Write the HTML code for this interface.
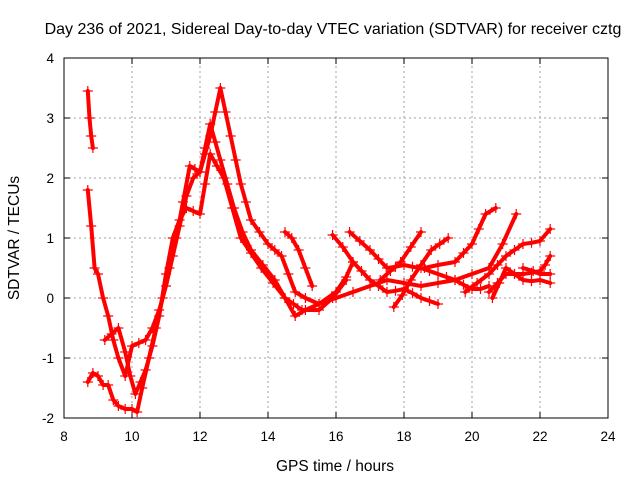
<!DOCTYPE html>
<html><head><meta charset="utf-8"><style>
body{margin:0;background:#fff}
svg{display:block;font-family:"Liberation Sans",sans-serif}
</style></head><body>
<svg id="chart" width="640" height="480">
<text x="333" y="34" font-size="16" text-anchor="middle">Day 236 of 2021, Sidereal Day-to-day VTEC variation (SDTVAR) for receiver cztg</text>
<text x="335" y="471" font-size="15.5" text-anchor="middle">GPS time / hours</text>
<text transform="translate(19,238) rotate(-90)" font-size="15.5" text-anchor="middle">SDTVAR / TECUs</text>
<g id="grid"></g><g id="ticks"></g><g id="series"></g>
<rect x="64" y="58" width="544" height="360" fill="none" stroke="#000"/>
</svg>
<script>
const xTicks=[8,10,12,14,16,18,20,22,24];
const yTicks=[-2,-1,0,1,2,3,4];
const track1=[[8.7,3.45],[8.75,3.0],[8.8,2.7],[8.85,2.5]];
const track2=[[8.7,1.8],[8.8,1.2],[8.9,0.5],[9.0,0.4],[9.15,0.0],[9.3,-0.3],[9.45,-0.7],[9.6,-1.0],[9.8,-1.3],[10.0,-0.8],[10.2,-0.75],[10.4,-0.7],[10.6,-0.5],[10.8,-0.2],[11.0,0.2],[11.2,0.7],[11.4,1.2],[11.6,1.7],[11.8,2.0],[12.0,2.1],[12.15,2.4],[12.3,2.7],[12.45,3.1],[12.6,3.5],[12.75,3.1],[12.9,2.7],[13.05,2.3],[13.2,1.9],[13.35,1.6],[13.5,1.3],[13.75,1.1],[14.0,0.9],[14.2,0.8],[14.4,0.7],[14.6,0.4],[14.8,0.1],[15.1,0.0],[15.5,-0.1],[16.0,0.0],[16.5,0.1],[17.0,0.2],[17.5,0.3],[18.0,0.25],[18.5,0.2],[19.0,0.25],[19.5,0.3],[20.0,0.4],[20.5,0.5],[20.9,0.9],[21.3,1.4]];
const track3=[[8.7,-1.4],[8.85,-1.25],[9.0,-1.3],[9.15,-1.45],[9.3,-1.45],[9.45,-1.7],[9.6,-1.8],[9.8,-1.85],[10.0,-1.85],[10.15,-1.9],[10.3,-1.5],[10.5,-1.0],[10.7,-0.5],[10.9,0.0],[11.1,0.5],[11.3,1.0],[11.5,1.6],[11.7,2.2],[11.85,2.15],[12.0,2.1],[12.15,2.5],[12.3,2.9],[12.45,2.6],[12.6,2.3],[12.8,1.9],[13.0,1.5],[13.25,1.1],[13.5,0.8],[13.85,0.55],[14.2,0.3],[14.5,0.0],[14.8,-0.3],[15.1,-0.2],[15.5,-0.1],[16.0,0.1],[16.3,0.35],[16.5,0.6]];
const track4=[[9.2,-0.7],[9.4,-0.6],[9.6,-0.5],[9.8,-0.9],[9.95,-1.3],[10.1,-1.6],[10.25,-1.4],[10.4,-1.2],[10.6,-0.8],[10.8,-0.3],[11.0,0.4],[11.2,1.0],[11.4,1.3],[11.6,1.5],[11.8,1.45],[12.0,1.4],[12.15,1.9],[12.3,2.4],[12.5,2.2],[12.7,2.0],[12.95,1.5],[13.2,1.0],[13.5,0.75],[13.8,0.5],[14.15,0.25],[14.5,0.0],[14.75,-0.1],[15.0,-0.2],[15.5,-0.2],[15.9,0.0],[16.3,0.3]];
const track5=[[14.5,1.1],[14.7,1.0],[14.9,0.8],[15.1,0.5],[15.3,0.2]];
const track6=[[15.9,1.05],[16.2,0.85],[16.5,0.6],[16.75,0.45],[17.0,0.3],[17.25,0.2],[17.5,0.1],[17.75,0.12],[18.0,0.15],[18.25,0.08],[18.5,0.0],[18.75,-0.05],[19.0,-0.1]];
const track7=[[16.4,1.1],[16.7,0.95],[17.0,0.8],[17.25,0.65],[17.5,0.5],[17.75,0.52],[18.0,0.55],[18.25,0.52],[18.5,0.5],[18.75,0.45],[19.0,0.4],[19.25,0.35],[19.5,0.3],[19.75,0.22],[20.0,0.15],[20.25,0.15],[20.5,0.2]];
const track8=[[17.7,-0.15],[17.95,0.05],[18.2,0.3],[18.5,0.55],[18.8,0.8],[19.05,0.9],[19.3,1.0]];
const track9=[[17.3,0.3],[17.6,0.45],[17.9,0.6],[18.2,0.85],[18.5,1.1]];
const track10=[[18.6,0.5],[19.0,0.55],[19.5,0.6],[19.75,0.75],[20.0,0.9],[20.2,1.15],[20.4,1.4],[20.7,1.5]];
const track11=[[19.8,0.1],[20.15,0.25],[20.5,0.4],[20.75,0.55],[21.0,0.7],[21.25,0.8],[21.5,0.9],[21.75,0.92],[22.0,0.95],[22.3,1.15]];
const track12=[[20.5,0.1],[20.75,0.25],[21.0,0.4],[21.25,0.4],[21.5,0.4],[21.75,0.42],[22.0,0.45],[22.15,0.55],[22.3,0.7]];
const track13=[[20.6,0.0],[20.8,0.25],[21.0,0.5],[21.25,0.4],[21.5,0.3],[21.75,0.28],[22.0,0.3],[22.3,0.25]];
const track14=[[21.5,0.5],[21.8,0.45],[22.0,0.4],[22.3,0.4]];
const tracks=[track1,track2,track3,track4,track5,track6,track7,track8,track9,track10,track11,track12,track13,track14];
const NS="http://www.w3.org/2000/svg";
const X0=64,X1=608,Y0=418,Y1=58;
function sx(v){return X0+(v-8)/(24-8)*(X1-X0);}
function sy(v){return Y0-(v+2)/6*(Y0-Y1);}
const grid=document.getElementById('grid'),ticks=document.getElementById('ticks'),ser=document.getElementById('series');
function mk(tag,at,parent){const e=document.createElementNS(NS,tag);for(const k in at)e.setAttribute(k,at[k]);parent.appendChild(e);return e;}
xTicks.forEach(t=>{const x=sx(t);
 if(t>8&&t<24){const g=mk('line',{x1:x,x2:x,y1:Y0,y2:Y1,stroke:'#a0a0a0','stroke-dasharray':'2,3'},grid);
 
 }
 mk('line',{x1:x,x2:x,y1:Y0,y2:Y0-6,stroke:'#000'},ticks);mk('line',{x1:x,x2:x,y1:Y1,y2:Y1+6,stroke:'#000'},ticks);
 const l=mk('text',{x:x,y:Y0+23,'font-size':13.5,'text-anchor':'middle'},ticks);l.textContent=t;
 
 });
yTicks.forEach(t=>{const y=sy(t);
 if(t>-2&&t<4){const g=mk('line',{x1:X0,x2:X1,y1:y,y2:y,stroke:'#a0a0a0','stroke-dasharray':'2,3'},grid);
 
 }
 mk('line',{x1:X0,x2:X0+6,y1:y,y2:y,stroke:'#000'},ticks);mk('line',{x1:X1,x2:X1-6,y1:y,y2:y,stroke:'#000'},ticks);
 const l=mk('text',{x:X0-10,y:y+5,'font-size':13.5,'text-anchor':'end'},ticks);l.textContent=t;
 
 });
tracks.forEach((tr,i)=>{
 const g=mk('g',{},ser);
 
 
 mk('polyline',{points:tr.map(p=>sx(p[0])+','+sy(p[1])).join(' '),fill:'none',stroke:'#f00','stroke-width':4,'stroke-linejoin':'round','stroke-linecap':'round'},g);
 tr.forEach(p=>{const x=sx(p[0]),y=sy(p[1]);
  mk('path',{d:`M${x-5},${y}H${x+5}M${x},${y-5}V${y+5}`,stroke:'#f00','stroke-width':1.2},g);});
});
</script>
</body></html>
